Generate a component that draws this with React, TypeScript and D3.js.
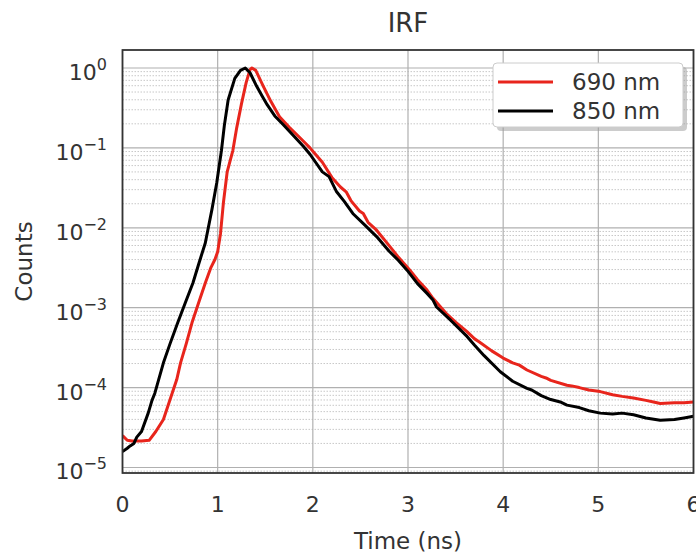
import React from "react";
import * as d3 from "d3";

// Time (ns) and normalized counts, 690 nm IRF
const t690 = [0, 0.05, 0.1, 0.2, 0.28, 0.35, 0.43, 0.5, 0.57, 0.61, 0.67, 0.73, 0.8, 0.87, 0.93, 0.97, 1.0, 1.03, 1.06, 1.1, 1.16, 1.2, 1.25, 1.3, 1.34, 1.36, 1.4, 1.48, 1.56, 1.65, 1.75, 1.87, 1.97, 2.05, 2.1, 2.2, 2.29, 2.35, 2.4, 2.49, 2.53, 2.58, 2.67, 2.8, 2.9, 3.02, 3.1, 3.2, 3.26, 3.4, 3.5, 3.62, 3.7, 3.75, 3.88, 4.0, 4.1, 4.17, 4.25, 4.4, 4.45, 4.5, 4.67, 4.72, 4.8, 4.9, 5.02, 5.15, 5.25, 5.37, 5.5, 5.58, 5.65, 5.8, 5.9, 6.0];
const c690 = [2.51e-5, 2.19e-5, 2.14e-5, 2.14e-5, 2.19e-5, 2.82e-5, 3.98e-5, 7.08e-5, 1.26e-4, 2.04e-4, 3.55e-4, 6.46e-4, 1.15e-3, 2.04e-3, 3.2e-3, 3.98e-3, 5.0e-3, 8.5e-3, 2.04e-2, 5.01e-2, 9.33e-2, 0.178, 0.355, 0.661, 0.955, 1.0, 0.933, 0.589, 0.38, 0.245, 0.182, 0.132, 0.1, 0.0776, 0.0661, 0.0427, 0.0324, 0.0282, 0.0219, 0.0162, 0.0151, 0.0117, 0.00933, 0.00603, 0.00427, 0.00295, 0.00224, 0.00166, 0.00132, 8.51e-4, 6.61e-4, 5.01e-4, 4.07e-4, 3.72e-4, 2.88e-4, 2.34e-4, 2.04e-4, 1.91e-4, 1.66e-4, 1.38e-4, 1.32e-4, 1.23e-4, 1.07e-4, 1.05e-4, 1.0e-4, 9.33e-5, 8.91e-5, 8.13e-5, 7.76e-5, 7.41e-5, 6.92e-5, 6.61e-5, 6.31e-5, 6.46e-5, 6.46e-5, 6.61e-5];

// Time (ns) and normalized counts, 850 nm IRF
const t850 = [0, 0.05, 0.08, 0.12, 0.15, 0.2, 0.27, 0.31, 0.34, 0.38, 0.43, 0.5, 0.58, 0.66, 0.74, 0.8, 0.87, 0.94, 0.99, 1.04, 1.07, 1.11, 1.18, 1.24, 1.29, 1.34, 1.41, 1.47, 1.52, 1.6, 1.69, 1.8, 1.9, 1.97, 2.1, 2.17, 2.25, 2.33, 2.42, 2.55, 2.67, 2.8, 2.9, 2.99, 3.1, 3.2, 3.26, 3.3, 3.45, 3.62, 3.7, 3.8, 3.97, 4.1, 4.25, 4.3, 4.4, 4.5, 4.6, 4.67, 4.8, 4.9, 5.02, 5.15, 5.25, 5.37, 5.5, 5.65, 5.8, 5.9, 6.0];
const c850 = [1.58e-5, 1.74e-5, 1.86e-5, 2.0e-5, 2.4e-5, 2.82e-5, 4.79e-5, 6.92e-5, 8.51e-5, 1.26e-4, 2.04e-4, 3.55e-4, 6.46e-4, 1.15e-3, 2.04e-3, 3.5e-3, 6.46e-3, 1.7e-2, 3.63e-2, 9.33e-2, 0.19, 0.398, 0.741, 0.933, 1.0, 0.871, 0.589, 0.44, 0.347, 0.251, 0.195, 0.141, 0.105, 0.0832, 0.0501, 0.0437, 0.0282, 0.0214, 0.0151, 0.0107, 0.00776, 0.00513, 0.00389, 0.00295, 0.002, 0.00151, 0.00126, 0.00102, 6.92e-4, 4.37e-4, 3.39e-4, 2.51e-4, 1.58e-4, 1.2e-4, 9.77e-5, 9.33e-5, 7.94e-5, 7.08e-5, 6.61e-5, 6.03e-5, 5.62e-5, 5.13e-5, 4.79e-5, 4.68e-5, 4.79e-5, 4.57e-5, 4.17e-5, 3.89e-5, 3.98e-5, 4.17e-5, 4.37e-5];

const xTicks = [0, 1, 2, 3, 4, 5, 6];
const yExponents = [0, -1, -2, -3, -4, -5];
const seriesNames = ["690 nm", "850 nm"];
const seriesColors = ["#e8251c", "#000000"];

const W = 696;
const H = 554;
const L = 122.5, R = 693.5, T = 50, B = 473;
const FONT = "'DejaVu Sans', sans-serif";
const TXT = "#333333";

export default function App() {
  const x = d3.scaleLinear().domain([0, 6]).range([L, R]);
  const y = d3.scaleLog().domain([Math.pow(10, -5.069), Math.pow(10, 0.225)]).range([B, T]);
  const line = d3.line<[number, number]>().x((d) => x(d[0])).y((d) => y(d[1]));
  const s690: [number, number][] = t690.map((t, i) => [t, c690[i]]);
  const s850: [number, number][] = t850.map((t, i) => [t, c850[i]]);

  const minor: number[] = [];
  for (let e = -6; e <= 0; e++) {
    for (let m = 2; m <= 9; m++) {
      const v = m * Math.pow(10, e);
      const py = y(v);
      if (py > T + 0.5 && py < B - 0.5) minor.push(py);
    }
  }

  return (
    <svg width={W} height={H} style={{ position: "absolute", left: 0, top: 0, background: "#fff" }}>
      <defs>
        <clipPath id="plotclip">
          <rect x={L} y={T} width={R - L} height={B - T} />
        </clipPath>
      </defs>
      <rect x={0} y={0} width={W} height={H} fill="#fff" />
      {/* minor grid */}
      {minor.map((py, i) => (
        <line key={"mn" + i} x1={L} x2={R} y1={py} y2={py} stroke="#c8c8c8" strokeWidth={1} strokeDasharray="1.5,1.5" />
      ))}
      {/* major grid */}
      {yExponents.map((e) => (
        <line key={"gy" + e} x1={L} x2={R} y1={y(Math.pow(10, e))} y2={y(Math.pow(10, e))} stroke="#b0b0b0" strokeWidth={1.2} />
      ))}
      {xTicks.map((t) => (
        <line key={"gx" + t} x1={x(t)} x2={x(t)} y1={T} y2={B} stroke="#b0b0b0" strokeWidth={1.2} />
      ))}
      {/* curves */}
      <g clipPath="url(#plotclip)">
        <path d={line(s690) || ""} fill="none" stroke={seriesColors[0]} strokeWidth={3} strokeLinejoin="round" />
        <path d={line(s850) || ""} fill="none" stroke={seriesColors[1]} strokeWidth={3} strokeLinejoin="round" />
      </g>
      {/* frame */}
      <rect x={L} y={T} width={R - L} height={B - T} fill="none" stroke="#333" strokeWidth={1.8} />
      {/* x tick labels */}
      {xTicks.map((t) => (
        <text key={"xt" + t} x={x(t)} y={512} textAnchor="middle" fontFamily={FONT} fontSize={22} fill={TXT}>
          {t}
        </text>
      ))}
      {/* y tick labels */}
      {yExponents.map((e) => (
        <text key={"yt" + e} x={107} y={y(Math.pow(10, e)) + 12} textAnchor="end" fontFamily={FONT} fontSize={22} fill={TXT}>
          10
          <tspan dy={-10} fontSize={16}>{e === 0 ? "0" : "\u2212" + Math.abs(e)}</tspan>
        </text>
      ))}
      {/* axis labels */}
      <text x={(L + R) / 2} y={549} textAnchor="middle" fontFamily={FONT} fontSize={23} fill={TXT}>
        Time (ns)
      </text>
      <text transform={`translate(32,${(T + B) / 2}) rotate(-90)`} textAnchor="middle" fontFamily={FONT} fontSize={23} fill={TXT}>
        Counts
      </text>
      <text x={(L + R) / 2} y={32} textAnchor="middle" fontFamily={FONT} fontSize={26} fill={TXT}>
        IRF
      </text>
      {/* legend */}
      <g>
        <rect x={497} y={67} width={190} height={64} rx={4} fill="#999" opacity={0.5} />
        <rect x={493} y={63} width={190} height={64} rx={4} fill="#fff" stroke="#cccccc" strokeWidth={1} />
        {seriesNames.map((n, i) => (
          <g key={n}>
            <line x1={498} x2={553} y1={82 + i * 29} y2={82 + i * 29} stroke={seriesColors[i]} strokeWidth={3} />
            <text x={572} y={90 + i * 29} fontFamily={FONT} fontSize={23} fill={TXT}>
              {n}
            </text>
          </g>
        ))}
      </g>
    </svg>
  );
}
